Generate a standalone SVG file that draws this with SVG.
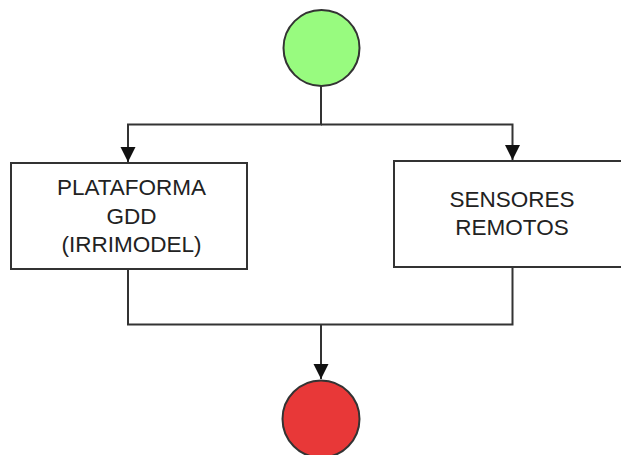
<svg xmlns="http://www.w3.org/2000/svg" width="621" height="455" viewBox="0 0 621 455">
<style>
.edge{fill:none;stroke:#333;stroke-width:2}
.box{fill:#fff;stroke:#333;stroke-width:2}
.lbl{font-family:"Liberation Sans",Arial,sans-serif;font-size:22.5px;fill:#222;text-anchor:middle}
</style>
<defs>
<marker id="arr" markerWidth="16" markerHeight="16" refX="15" refY="7.5" orient="auto" markerUnits="userSpaceOnUse">
<path d="M0,0 L15,7.5 L0,15 Z" fill="#111"/>
</marker>
</defs>
<rect width="621" height="455" fill="#fff"/>
<g id="connectors">
<path class="edge" d="M321,86 V124.5 H128 V162" marker-end="url(#arr)"/>
<path class="edge" d="M321,124.5 H512.5 V160" marker-end="url(#arr)"/>
<path class="edge" d="M128,269 V324.5 H512.5 V267"/>
<path class="edge" d="M321,324.5 V379" marker-end="url(#arr)"/>
</g>
<g id="start">
<circle cx="321.5" cy="48" r="38" fill="#98fb7f" stroke="#333" stroke-width="2"/>
</g>
<g id="plataforma">
<rect class="box" x="11" y="163" width="236" height="106"/>
<text class="lbl" x="131.5" y="195">PLATAFORMA</text>
<text class="lbl" x="131.5" y="223.5">GDD</text>
<text class="lbl" x="131.5" y="252">(IRRIMODEL)</text>
</g>
<g id="sensores">
<rect class="box" x="394" y="161" width="236" height="106"/>
<text class="lbl" x="512" y="207">SENSORES</text>
<text class="lbl" x="512" y="235">REMOTOS</text>
</g>
<g id="end">
<circle cx="321" cy="419" r="38.5" fill="#e83838" stroke="#333" stroke-width="2"/>
</g>
</svg>
